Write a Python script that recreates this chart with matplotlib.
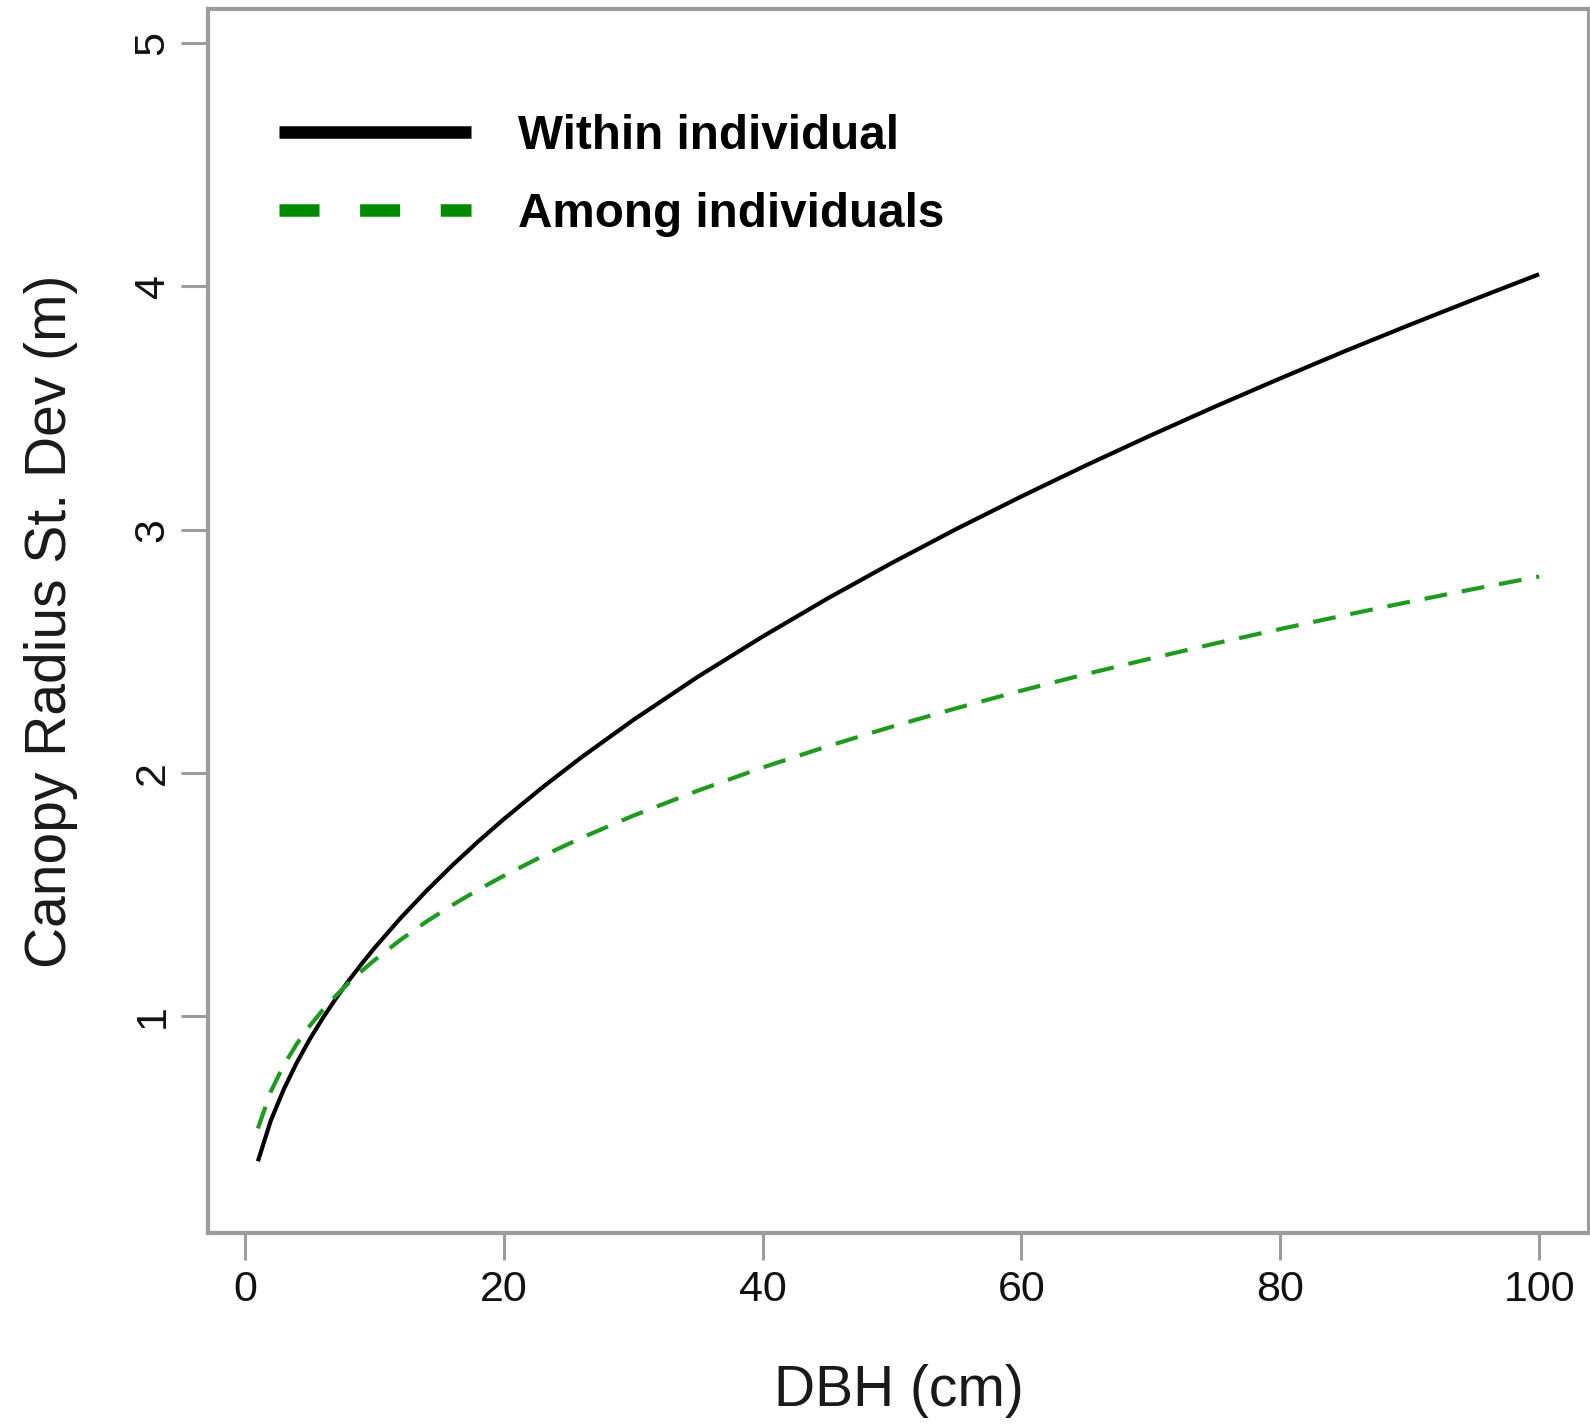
import matplotlib
matplotlib.use('Agg')
import matplotlib.pyplot as plt
from matplotlib.lines import Line2D

plt.rcParams['font.family'] = ['Liberation Sans', 'DejaVu Sans']

# values
dbh = [1, 2, 3, 4, 5, 6, 7, 8, 9, 10, 12, 14, 16, 18, 20, 23, 26, 30, 35,
       40, 45, 50, 55, 60, 65, 70, 75, 80, 85, 90, 95, 100]
within_sd = [0.405, 0.573, 0.701, 0.810, 0.906, 0.992, 1.072, 1.146, 1.215,
             1.281, 1.403, 1.515, 1.620, 1.718, 1.811, 1.942, 2.065, 2.218,
             2.396, 2.561, 2.717, 2.864, 3.004, 3.137, 3.265, 3.388, 3.507,
             3.622, 3.734, 3.842, 3.947, 4.050]
among_sd = [0.540, 0.692, 0.800, 0.887, 0.961, 1.026, 1.084, 1.137, 1.186,
            1.231, 1.314, 1.389, 1.457, 1.520, 1.578, 1.659, 1.734, 1.825,
            1.928, 2.023, 2.110, 2.191, 2.267, 2.339, 2.407, 2.471, 2.533,
            2.592, 2.649, 2.704, 2.757, 2.808]
series_names = ['Within individual', 'Among individuals']
x_ticks = [0, 20, 40, 60, 80, 100]
y_ticks = [1, 2, 3, 4, 5]

green = '#008a00'
curve_green = '#1f9a1f'
axis_grey = '#9c9c9c'

fig = plt.figure(figsize=(15.9, 14.24), dpi=100)
ax = fig.add_axes([0.1308, 0.1341, 0.8686, 0.8596])

ax.plot(dbh, within_sd, color='black', lw=3.0, solid_capstyle='butt')
ax.plot(dbh, among_sd, color=curve_green, lw=3.0, dashes=(5.5, 3.6))

ax.set_xlim(-2.86, 103.86)
ax.set_ylim(0.11, 5.14)
ax.set_xticks(x_ticks)
ax.set_yticks(y_ticks)

for s in ax.spines.values():
    s.set_color(axis_grey)
    s.set_linewidth(3)

ax.tick_params(axis='both', length=19.5, width=2.2, color=axis_grey,
               labelsize=31, labelcolor='#111111')
ax.tick_params(axis='x', pad=7)
ax.tick_params(axis='y', pad=6, labelrotation=90)
for lab in ax.get_yticklabels():
    lab.set_va('center')

ax.set_xlabel('DBH (cm)', fontsize=41, color='#1a1a1a')
ax.set_ylabel('Canopy Radius St. Dev (m)', fontsize=41, color='#1a1a1a')
ax.xaxis.set_label_coords(0.5, -0.129)
ax.xaxis.label.set_va('center')
ax.yaxis.set_label_coords(-0.114, 0.5)
ax.yaxis.label.set_va('center')
ax.yaxis.label.set_ha('center')

# legend, R style
handles = [Line2D([], [], color='black', lw=9, solid_capstyle='butt'),
           Line2D([], [], color=green, lw=9, dashes=(3.2, 3.25),
                  dash_capstyle='butt')]
leg = ax.legend(handles, series_names, loc='upper left',
                bbox_to_anchor=(0.0514, 0.9145), frameon=False,
                borderpad=0, borderaxespad=0, handlelength=4.03,
                handletextpad=0.98, labelspacing=0.69,
                prop={'size': 34.3, 'weight': 'bold'})

plt.savefig('out.png', dpi=100)
